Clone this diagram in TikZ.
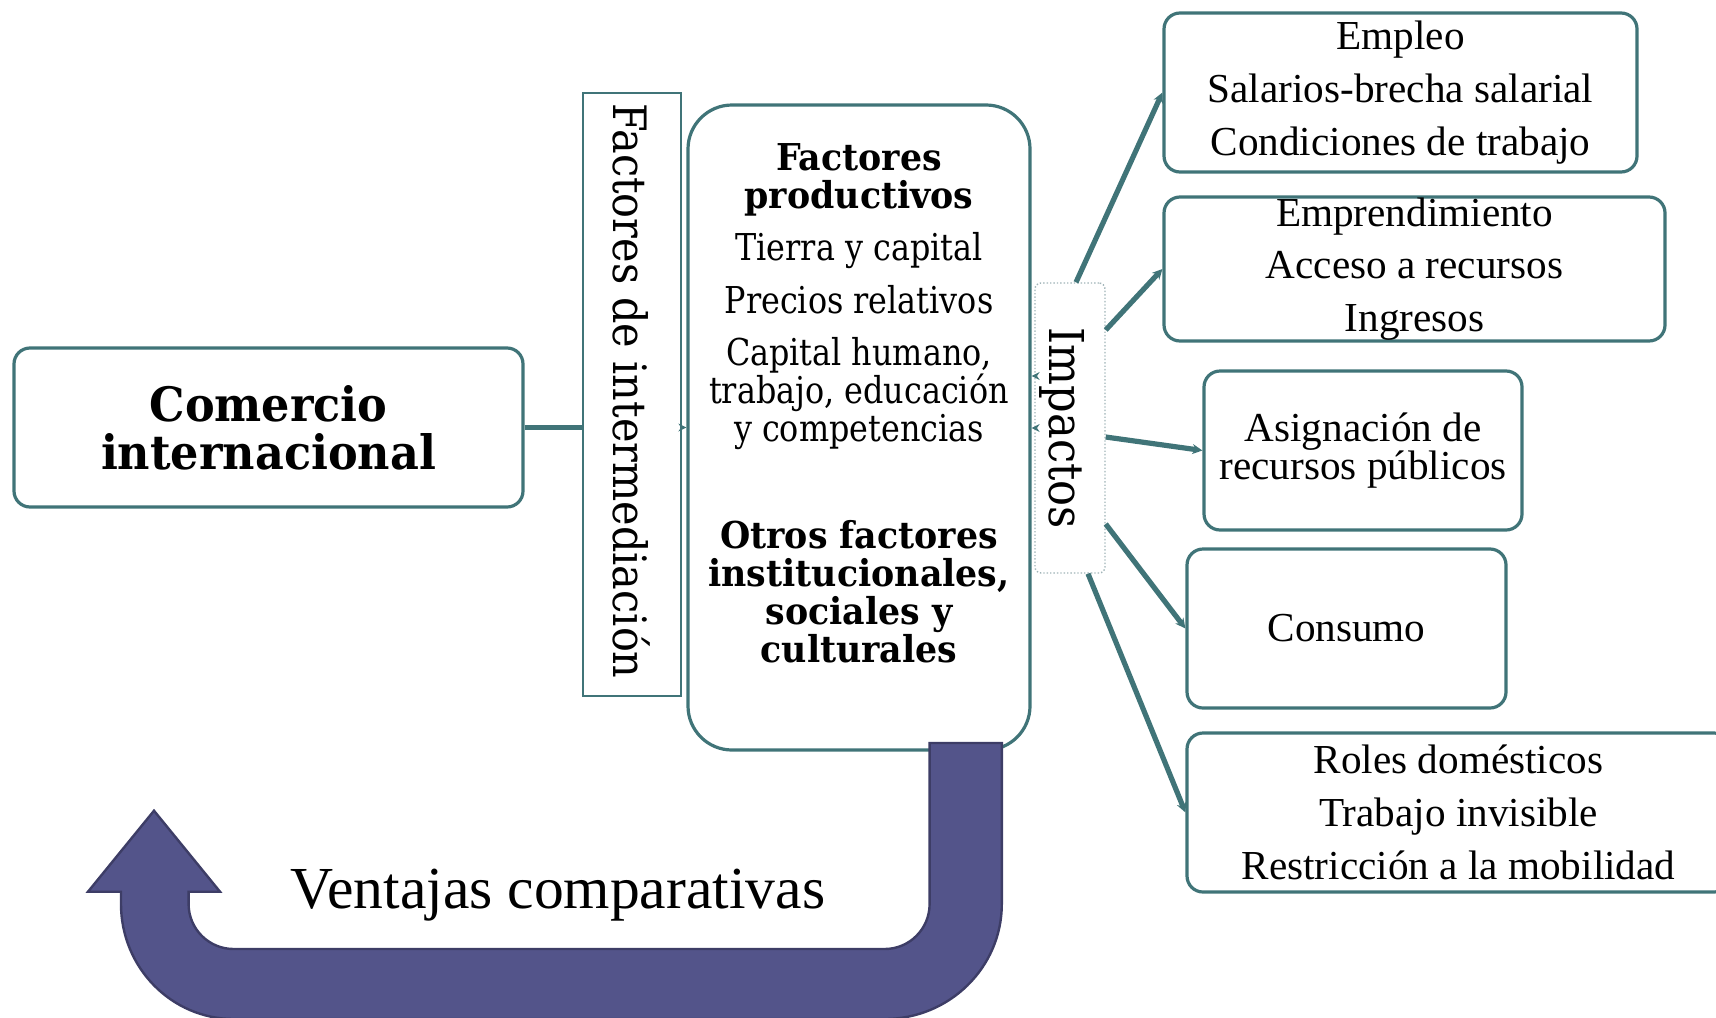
\documentclass[tikz,border=0pt]{standalone}
\usepackage{fontspec}
\setmainfont{Liberation Serif}
\newfontfamily\geo[FakeStretch=0.86]{DejaVu Serif}
\newfontfamily\geoi[FakeStretch=0.9]{DejaVu Serif}
\newfontfamily\geob[FakeStretch=0.94]{DejaVu Serif Bold}
\usetikzlibrary{arrows.meta,calc}
\definecolor{teal1}{RGB}{64,116,120}
\definecolor{purp}{RGB}{83,84,138}
\definecolor{purpd}{RGB}{61,61,102}
\definecolor{impb}{RGB}{160,180,184}
\newcommand\nolsk{\lineskiplimit=-30pt\relax}
\begin{document}
\begin{tikzpicture}[x=0.5pt,y=-0.5pt,
  box/.style={draw=teal1, line width=1.6pt, rounded corners=8pt, fill=white, inner sep=0pt, align=center},
  conn/.style={draw=teal1, line width=2.6pt},
  arr/.style={conn, -{Stealth[length=5pt,width=5pt]}},
  tinyarr/.style={draw=teal1, line width=1pt, -{Stealth[length=4pt,width=4pt]}},
  rtext/.style={font=\fontsize{20.6}{26.4}\selectfont\nolsk},
  gtext/.style={font=\geo\fontsize{18.5}{19}\selectfont\nolsk, align=center}
]
\useasboundingbox (0,0) rectangle (1716,1017);

% left box
\node[box, minimum width=254.5pt, minimum height=79.5pt,
      font=\geob\fontsize{23.7}{24}\selectfont\nolsk] (com) at (268.5,427.5) {Comercio\\internacional};

% intermediation
\node[draw=teal1, line width=0.8pt, fill=white, minimum width=49pt, minimum height=301.5pt, inner sep=0pt] (inter) at (632,394.5) {};
\node[rotate=-90, font=\geoi\fontsize{23}{23}\selectfont, inner sep=0pt] (intert) at (632,391) {Factores de intermediación};

% big box
\node[box, rounded corners=22pt, minimum width=171pt, minimum height=322.5pt] (big) at (859,427.5) {};
\node[gtext] (bigt) at (859,403) {{\geob Factores}\\{\geob productivos}\\[7.25pt]Tierra y capital\\[7.25pt]Precios relativos\\[7.25pt]Capital humano,\\trabajo, educación\\y competencias\\[34.25pt]{\geob Otros factores}\\{\geob institucionales,}\\{\geob sociales y}\\{\geob culturales}};

% impacts
\node[draw=impb, densely dotted, line width=0.7pt, rounded corners=3pt, fill=white, minimum width=35pt, minimum height=145pt, inner sep=0pt] (imp) at (1070,428) {};
\node[rotate=-90, font=\geoi\fontsize{24}{24}\selectfont, inner sep=0pt] (impt) at (1062,428.5) {Impactos};

% right boxes
\node[box, rtext, minimum width=236.5pt, minimum height=79.5pt] (emp) at (1400.5,92.5) {Empleo\\Salarios-brecha salarial\\Condiciones de trabajo};
\node[box, rtext, minimum width=250.5pt, minimum height=72pt] (empr) at (1414.5,269) {Emprendimiento\\Acceso a recursos\\Ingresos};
\node[box, font=\fontsize{20.6}{19}\selectfont\nolsk, minimum width=159pt, minimum height=79.5pt] (asig) at (1363,450.5) {Asignación de\\recursos públicos};
\node[box, rtext, minimum width=159.5pt, minimum height=79.5pt] (cons) at (1346.5,628.5) {Consumo};
\node[box, rtext, minimum width=271.5pt, minimum height=79.5pt] (roles) at (1458.5,812.5) {Roles domésticos\\Trabajo invisible\\Restricción a la mobilidad};

% connectors
\draw[conn] (com.east) -- (com.east -| inter.west);
\draw[tinyarr] (inter.east |- com.east) -- (com.east -| big.west);
\coordinate (i1) at ($(imp.west)+(0,-52)$);
\draw[tinyarr] (i1) -- (i1 -| big.east);
\draw[tinyarr] (imp.west) -- (imp.west -| big.east);
\draw[arr] ($(imp.north)+(6,0)$) -- (emp.west);
\draw[arr] ($(imp.east)+(0,-98)$) -- (empr.west);
\draw[arr] ($(imp.east)+(0,9)$) -- (asig.west);
\draw[arr] ($(imp.east)+(0,96)$) -- (cons.west);
\draw[arr] ($(imp.south)+(18,0)$) -- (roles.west);

% U-turn arrow
\draw[fill=purp, draw=purpd, line width=1.2pt, line join=miter]
 (1001.8,743) -- (1001.8,904) .. controls (1001.8,967.5) and (949.3,1019) .. (884.6,1019)
 -- (233.6,1019) .. controls (171.4,1019) and (121,967.5) .. (121,904)
 -- (121,891.7) -- (88,891.7) -- (154,810.7) -- (220,891.7) -- (188.6,891.7)
 -- (188.6,904) .. controls (188.6,928.9) and (208.8,949) .. (233.6,949)
 -- (884.6,949) .. controls (909.5,949) and (929.6,928.9) .. (929.6,904)
 -- (929.6,743) -- cycle;
\node[font=\fontsize{29.8}{30}\selectfont, anchor=base] (vent) at (558,908) {Ventajas comparativas};
\end{tikzpicture}
\end{document}
